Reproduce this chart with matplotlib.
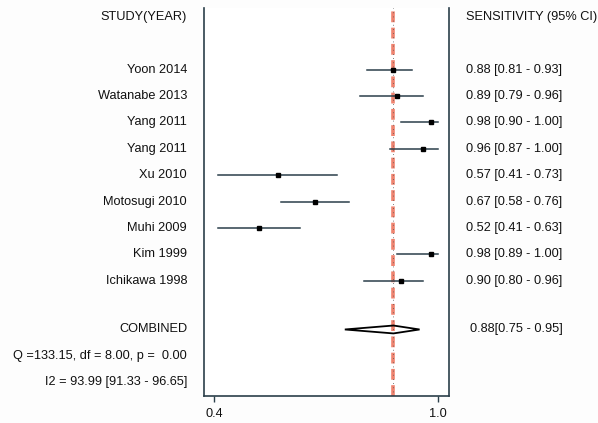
import numpy as np
import matplotlib
matplotlib.use("Agg")
import matplotlib.pyplot as plt
from matplotlib.patches import Polygon

plt.rcParams['font.family'] = ['Liberation Sans', 'DejaVu Sans']

# Study data
studies = ["Yoon 2014", "Watanabe 2013", "Yang 2011", "Yang 2011", "Xu 2010",
           "Motosugi 2010", "Muhi 2009", "Kim 1999", "Ichikawa 1998"]
sens = [0.88, 0.89, 0.98, 0.96, 0.57, 0.67, 0.52, 0.98, 0.90]
lower = [0.81, 0.79, 0.90, 0.87, 0.41, 0.58, 0.41, 0.89, 0.80]
upper = [0.93, 0.96, 1.00, 1.00, 0.73, 0.76, 0.63, 1.00, 0.96]

pooled = 0.88
pooled_lo = 0.75
pooled_hi = 0.95
q_text = "Q =133.15, df = 8.00, p =  0.00"
i2_text = "I2 = 93.99 [91.33 - 96.65]"
xticks = [0.4, 1.0]

line_col = "#2b3f4a"
text_col = "#111111"

fig = plt.figure(figsize=(5.98, 4.23), dpi=100)
ax = fig.add_axes([0.341, 0.064, 0.41, 0.917])

rows = np.arange(len(studies)) + 2
comb_y = 11.85

# CI lines and points
for y, s, lo, hi in zip(rows, sens, lower, upper):
    ax.plot([lo, hi], [y, y], color=line_col, lw=1.1, zorder=3)
    ax.plot(s, y, marker='s', ms=3.5, color='black', zorder=4)

# pooled estimate line
ax.axvline(pooled, color="#f0836f", lw=2.6, ls=(0, (3, 1.5)), zorder=2)
ax.axvline(pooled, color="#555555", lw=0.6, ls=(0, (1, 4)), zorder=2)

# combined diamond
dia = Polygon([[pooled_lo, comb_y], [pooled, comb_y - 0.15],
               [pooled_hi, comb_y], [pooled, comb_y + 0.15]],
              closed=True, fill=False, edgecolor='black', lw=1.3, zorder=5)
ax.add_patch(dia)

ax.set_xlim(0.373, 1.029)
ax.set_ylim(14.37, -0.34)
ax.set_yticks([])
ax.set_xticks(xticks)
ax.set_xticklabels(["%.1f" % v for v in xticks], fontsize=9.2, color=text_col)
ax.tick_params(axis='x', direction='out', length=4, width=1, color=line_col, pad=5)
ax.spines['top'].set_visible(False)
for sp in ['left', 'right', 'bottom']:
    ax.spines[sp].set_color(line_col)
    ax.spines[sp].set_linewidth(1.2)

tr = ax.get_yaxis_transform()
fs = 9.2
ax.text(-0.069, 0, "STUDY(YEAR)", transform=tr, ha='right', va='center', fontsize=fs, color=text_col)
ax.text(1.069, 0, "SENSITIVITY (95% CI)", transform=tr, ha='left', va='center', fontsize=fs, color=text_col)
for y, name, s, lo, hi in zip(rows, studies, sens, lower, upper):
    ax.text(-0.069, y, name, transform=tr, ha='right', va='center', fontsize=fs, color=text_col)
    ax.text(1.069, y, "%.2f [%.2f - %.2f]" % (s, lo, hi), transform=tr,
            ha='left', va='center', fontsize=fs, color=text_col)

ax.text(-0.069, comb_y, "COMBINED", transform=tr, ha='right', va='center', fontsize=fs, color=text_col)
ax.text(1.086, comb_y, "%.2f[%.2f - %.2f]" % (pooled, pooled_lo, pooled_hi), transform=tr,
        ha='left', va='center', fontsize=fs, color=text_col)
ax.text(-0.069, comb_y + 1.0, q_text, transform=tr, ha='right', va='center', fontsize=fs, color=text_col)
ax.text(-0.069, comb_y + 2.0, i2_text, transform=tr, ha='right', va='center', fontsize=fs, color=text_col)

fig.savefig("out.png", dpi=100, facecolor="#fdfdfd")
